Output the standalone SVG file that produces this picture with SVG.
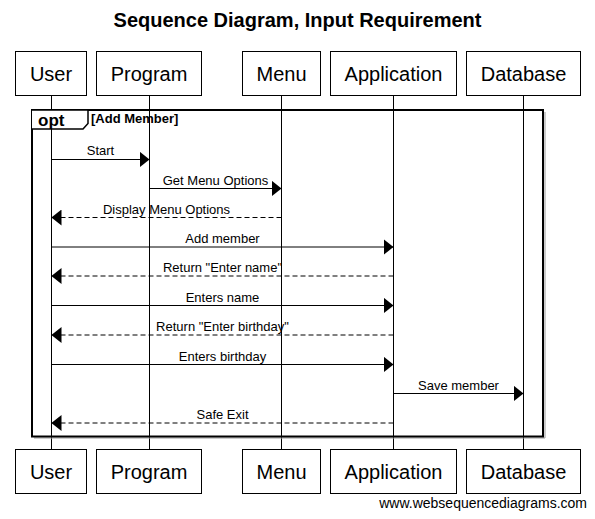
<svg xmlns="http://www.w3.org/2000/svg" width="595" height="519" viewBox="0 0 595 519">
<style>
text{font-family:"Liberation Sans",Arial,sans-serif;fill:#000}
.title{font-size:20px;font-weight:bold}
.pbox{fill:#fff;stroke:#000;stroke-width:1}
.pname{font-size:20px;text-anchor:middle}
.life{stroke:#000;stroke-width:1}
.msg{stroke:#000;stroke-width:1;fill:none}
.ret{stroke:#000;stroke-width:1;fill:none;stroke-dasharray:5,3}
.lbl{font-size:13px;text-anchor:middle}
.frame{fill:none;stroke:#000;stroke-width:2}
.head{fill:#000}
</style>
<defs>
<marker id="ah" viewBox="0 0 10 16" refX="10" refY="8" markerWidth="10" markerHeight="16" markerUnits="userSpaceOnUse" orient="auto">
<path d="M0,0 L10,8 L0,16 Z" class="head"/>
</marker>
</defs>
<rect width="595" height="519" fill="#fff"/>
<text class="title" x="297.5" y="27" text-anchor="middle">Sequence Diagram, Input Requirement</text>

<g id="lifelines">
<line class="life" x1="51.5" y1="96" x2="51.5" y2="449"/>
<line class="life" x1="149.5" y1="96" x2="149.5" y2="449"/>
<line class="life" x1="281.5" y1="96" x2="281.5" y2="449"/>
<line class="life" x1="393.5" y1="96" x2="393.5" y2="449"/>
<line class="life" x1="523.5" y1="96" x2="523.5" y2="449"/>
</g>

<g id="opt-frame">
<line x1="34" y1="438" x2="545" y2="438" stroke="#999" stroke-width="1"/>
<line x1="545" y1="112" x2="545" y2="438" stroke="#999" stroke-width="1"/>
<rect class="frame" x="32" y="110" width="511" height="326.5"/>
<path d="M32,110 L88,110 L88,123.5 L83,129 L32,129" fill="#fff" stroke="#000" stroke-width="1.5"/>
<text x="38" y="125.5" font-size="17" font-weight="bold">opt</text>
<text x="91" y="122.5" font-size="13" font-weight="bold">[Add Member]</text>
</g>

<g id="connectors">
<line class="msg" x1="51.5" y1="159.5" x2="149.5" y2="159.5" marker-end="url(#ah)"/>
<text class="lbl" x="100.5" y="155">Start</text>
<line class="msg" x1="149.5" y1="188.5" x2="281.5" y2="188.5" marker-end="url(#ah)"/>
<text class="lbl" x="215.5" y="185">Get Menu Options</text>
<line class="ret" x1="281.5" y1="217.5" x2="51.5" y2="217.5" marker-end="url(#ah)"/>
<text class="lbl" x="166.5" y="214">Display Menu Options</text>
<line class="msg" x1="51.5" y1="247" x2="393.5" y2="247" marker-end="url(#ah)"/>
<text class="lbl" x="222.5" y="243">Add member</text>
<line class="ret" x1="393.5" y1="276" x2="51.5" y2="276" marker-end="url(#ah)"/>
<text class="lbl" x="222.5" y="272">Return "Enter name"</text>
<line class="msg" x1="51.5" y1="305.5" x2="393.5" y2="305.5" marker-end="url(#ah)"/>
<text class="lbl" x="222.5" y="302">Enters name</text>
<line class="ret" x1="393.5" y1="335" x2="51.5" y2="335" marker-end="url(#ah)"/>
<text class="lbl" x="222.5" y="331">Return "Enter birthday"</text>
<line class="msg" x1="51.5" y1="364.5" x2="393.5" y2="364.5" marker-end="url(#ah)"/>
<text class="lbl" x="222.5" y="361">Enters birthday</text>
<line class="msg" x1="393.5" y1="393.5" x2="523.5" y2="393.5" marker-end="url(#ah)"/>
<text class="lbl" x="458.5" y="390">Save member</text>
<line class="ret" x1="393.5" y1="423" x2="51.5" y2="423" marker-end="url(#ah)"/>
<text class="lbl" x="222.5" y="419">Safe Exit</text>
</g>

<g id="user">
<rect class="pbox" x="15.5" y="51.5" width="71" height="44"/>
<text class="pname" x="51" y="81">User</text>
<rect class="pbox" x="15.5" y="449.5" width="71" height="44"/>
<text class="pname" x="51" y="479">User</text>
</g>
<g id="program">
<rect class="pbox" x="96.5" y="51.5" width="105" height="44"/>
<text class="pname" x="149" y="81">Program</text>
<rect class="pbox" x="96.5" y="449.5" width="105" height="44"/>
<text class="pname" x="149" y="479">Program</text>
</g>
<g id="menu">
<rect class="pbox" x="242.5" y="51.5" width="78" height="44"/>
<text class="pname" x="281.5" y="81">Menu</text>
<rect class="pbox" x="242.5" y="449.5" width="78" height="44"/>
<text class="pname" x="281.5" y="479">Menu</text>
</g>
<g id="application">
<rect class="pbox" x="330.5" y="51.5" width="126" height="44"/>
<text class="pname" x="393.5" y="81">Application</text>
<rect class="pbox" x="330.5" y="449.5" width="126" height="44"/>
<text class="pname" x="393.5" y="479">Application</text>
</g>
<g id="database">
<rect class="pbox" x="466.5" y="51.5" width="114" height="44"/>
<text class="pname" x="523.5" y="81">Database</text>
<rect class="pbox" x="466.5" y="449.5" width="114" height="44"/>
<text class="pname" x="523.5" y="479">Database</text>
</g>

<text x="587" y="508" font-size="14" text-anchor="end">www.websequencediagrams.com</text>
</svg>
